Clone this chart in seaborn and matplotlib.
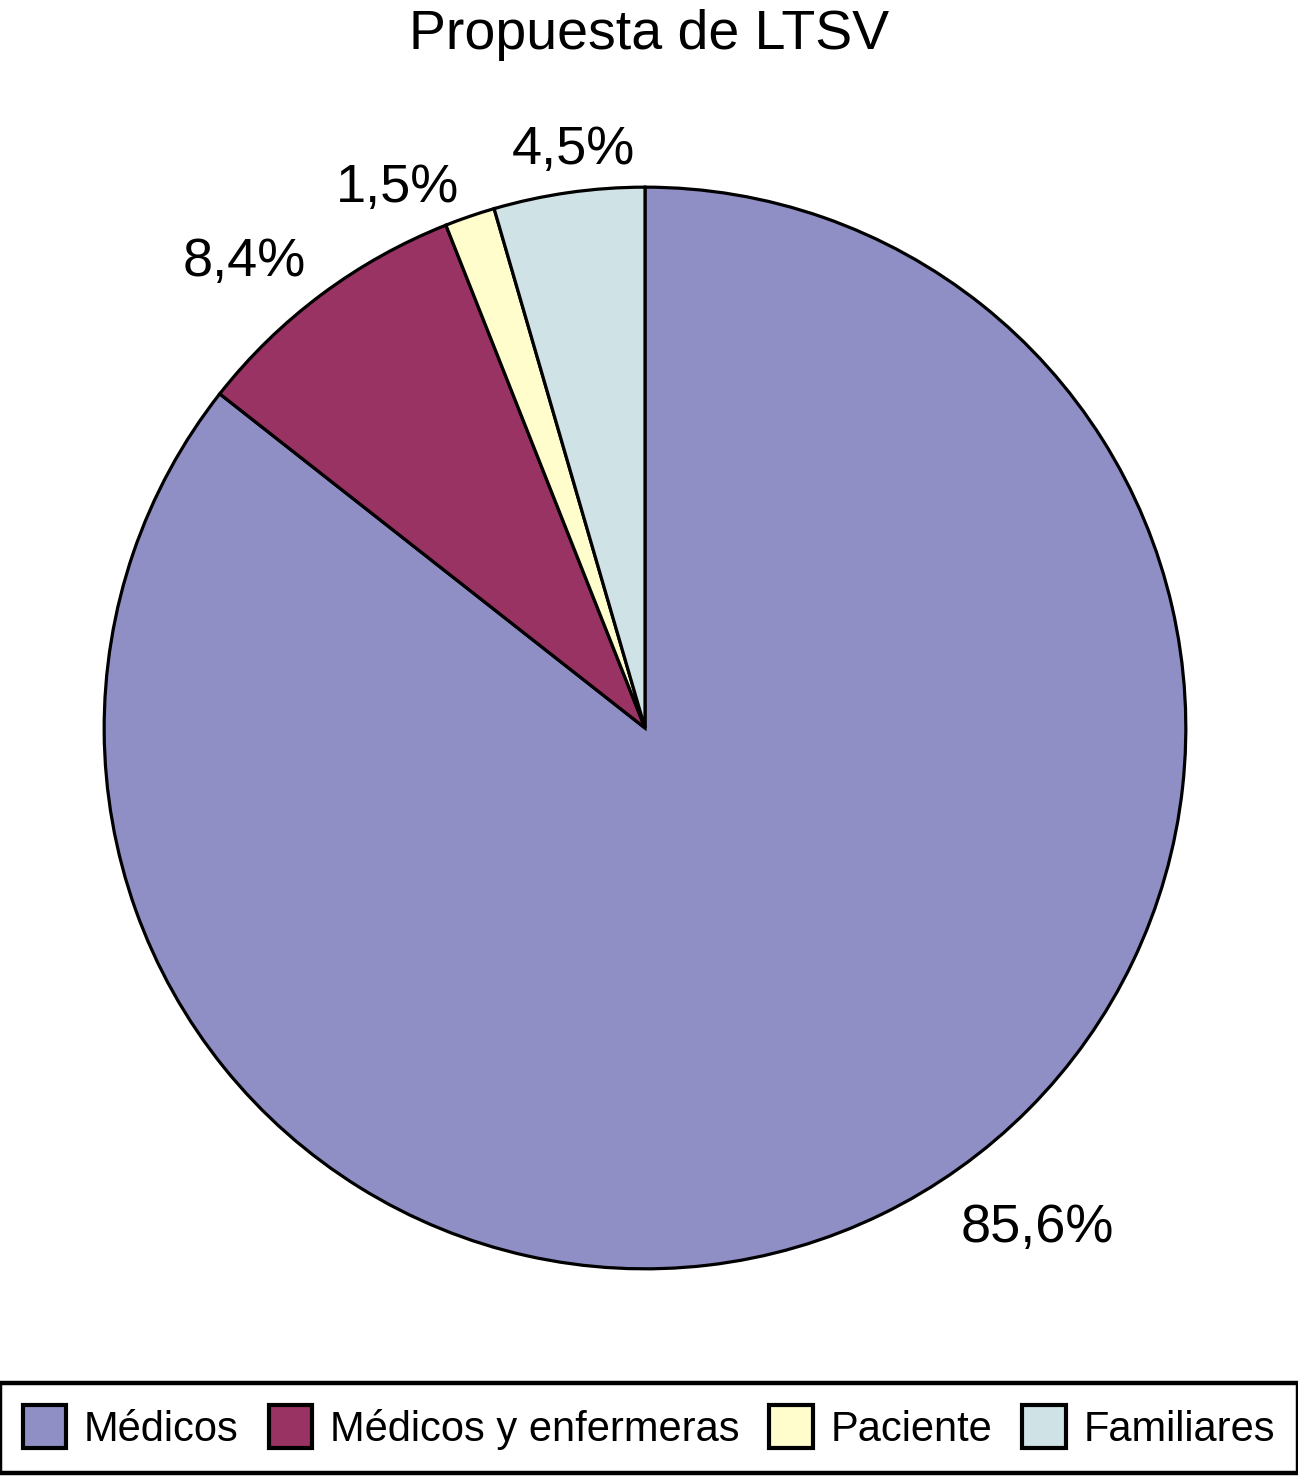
import seaborn as sns
import matplotlib.pyplot as plt

categories = ["Médicos", "Médicos y enfermeras", "Paciente", "Familiares"]
values = [85.6, 8.4, 1.5, 4.5]
pct_labels = ["85,6%", "8,4%", "1,5%", "4,5%"]
colors = ["#8F8FC6", "#993363", "#FFFDCC", "#CFE2E5"]

sns.set_theme(style="white")
plt.rcParams["font.family"] = ["Liberation Sans", "DejaVu Sans"]
plt.rcParams["text.color"] = "black"

fig = plt.figure(figsize=(12.98, 14.79), dpi=100)
ax = fig.add_axes([-4 / 1298, 102 / 1479, 1.0, 1298 / 1479])

wedges, texts = ax.pie(
    values,
    labels=pct_labels,
    colors=sns.color_palette(colors),
    startangle=90,
    counterclock=False,
    labeldistance=1.15,
    wedgeprops={"edgecolor": "black", "linewidth": 2.3},
    textprops={"fontsize": 39, "color": "black"},
)

# hand placed label positions (pie radius = 1)
label_pos = [(0.726, -0.924), (-0.741, 0.861), (-0.458, 0.998), (-0.133, 1.068)]
for t, (px, py) in zip(texts, label_pos):
    t.set_position((px, py))
    t.set_ha("center")
    t.set_va("center")

ax.set_xlim(-1.2, 1.2)
ax.set_ylim(-1.2, 1.2)
ax.set_aspect("equal")
ax.axis("off")

fig.text(0.5, 1 - 35 / 1479, "Propuesta de LTSV", ha="center", va="center",
         fontsize=40, color="black")

leg = fig.legend(
    wedges,
    categories,
    loc="lower center",
    bbox_to_anchor=(0.5, 0.0),
    borderaxespad=0.15,
    ncol=4,
    fontsize=30,
    frameon=True,
    fancybox=False,
    framealpha=1,
    handlelength=1.05,
    handleheight=1.2,
    handletextpad=0.42,
    columnspacing=0.72,
    borderpad=0.55,
)
leg.get_frame().set_edgecolor("black")
leg.get_frame().set_linewidth(3.2)
for t in leg.get_texts():
    t.set_color("black")
for h in leg.legend_handles:
    h.set_linewidth(3)

fig.savefig("out.png", dpi=100)
